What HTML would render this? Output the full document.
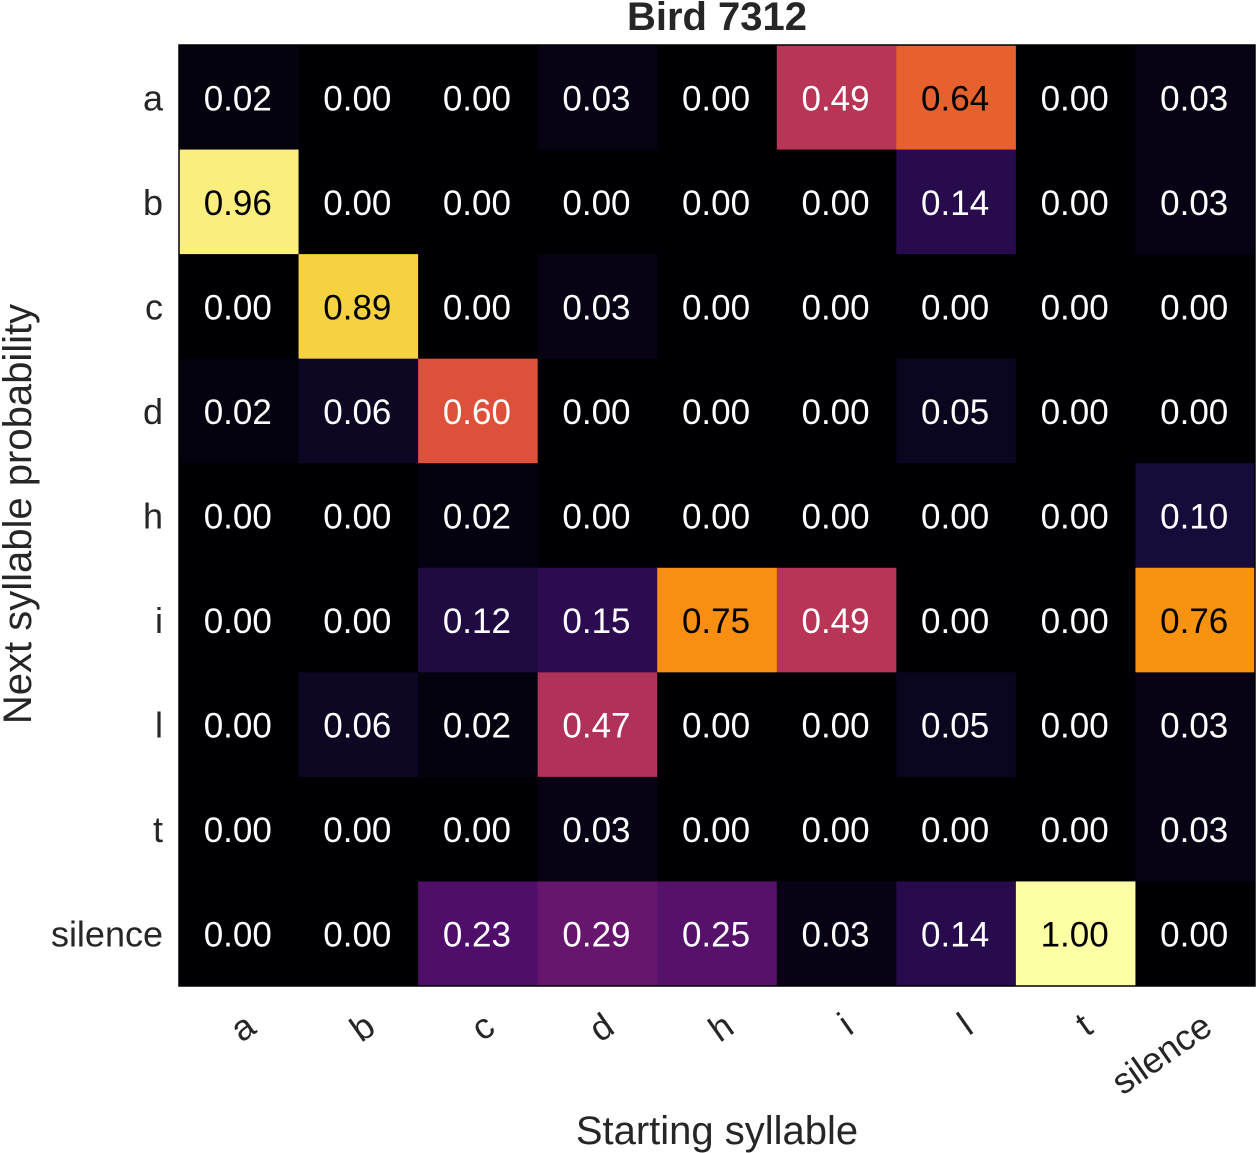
<!DOCTYPE html>
<html><head><meta charset="utf-8"><style>
body{margin:0;background:#fff;}
svg{display:block;font-family:"Liberation Sans",Arial,sans-serif;}
</style></head><body>
<svg id="chart" width="1256" height="1153" viewBox="0 0 1256 1153"></svg>
<script>
const startLabels=["a","b","c","d","h","i","l","t","silence"];
const nextLabels=["a","b","c","d","h","i","l","t","silence"];
const rowA=[0.02,0,0,0.03,0,0.49,0.64,0,0.03];
const rowB=[0.96,0,0,0,0,0,0.14,0,0.03];
const rowC=[0,0.89,0,0.03,0,0,0,0,0];
const rowD=[0.02,0.06,0.60,0,0,0,0.05,0,0];
const rowH=[0,0,0.02,0,0,0,0,0,0.10];
const rowI=[0,0,0.12,0.15,0.75,0.49,0,0,0.76];
const rowL=[0,0.06,0.02,0.47,0,0,0.05,0,0.03];
const rowT=[0,0,0,0.03,0,0,0,0,0.03];
const rowSilence=[0,0,0.23,0.29,0.25,0.03,0.14,1.00,0];
const values=[rowA,rowB,rowC,rowD,rowH,rowI,rowL,rowT,rowSilence];

const NS="http://www.w3.org/2000/svg";
const svg=document.getElementById('chart');
const L=179,T=45,R=1255,B=986;
const cw=(R-L)/startLabels.length, ch=(B-T)/nextLabels.length;
const xPos=i=>L+i*cw, yPos=j=>T+j*ch;
const stops=["#000004","#160b39","#420a68","#6a176e","#932667","#bc3754","#dd513a","#f37819","#fca50a","#f6d746","#fcffa4"];
function hex(h){return [1,3,5].map(k=>parseInt(h.substr(k,2),16));}
function inferno(v){v=Math.max(0,Math.min(1,v));const p=v*10,i=Math.min(9,Math.floor(p)),f=p-i;
 const a=hex(stops[i]),b=hex(stops[i+1]);return "rgb("+a.map((c,k)=>Math.round(c+(b[k]-c)*f)).join(",")+")";}
function el(tag,attrs,parent){const e=document.createElementNS(NS,tag);for(const k in attrs)e.setAttribute(k,attrs[k]);(parent||svg).appendChild(e);return e;}

const title=el('text',{x:717,y:30,'text-anchor':'middle','font-size':40,'font-weight':'bold',fill:'#262626'});
title.textContent="Bird 7312";



values.forEach((row,j)=>row.forEach((v,i)=>{
 const r=el('rect',{x:xPos(i),y:yPos(j),width:cw+0.5,height:ch+0.5,fill:inferno(v)});
 
 
 const t=el('text',{x:xPos(i)+cw/2-1,y:yPos(j)+ch/2+13,'text-anchor':'middle','font-size':35,fill:v>0.62?'#000':'#fff'});
 t.textContent=v.toFixed(2);
 
 
}));
const frame=el('rect',{x:L,y:T,width:R-L,height:B-T,fill:'none',stroke:'#000','stroke-width':1.5});



nextLabels.forEach((s,j)=>{
 const t=el('text',{x:163,y:yPos(j)+ch/2+13,'text-anchor':'end','font-size':36,fill:'#262626'});
 t.textContent=s;
 
 
});
startLabels.forEach((s,i)=>{
 const x=xPos(i)+cw/2+4,y=1010;
 const t=el('text',{x:x,y:y,'text-anchor':'end','font-size':36,fill:'#262626',transform:'rotate(-35 '+x+' '+y+')'});
 t.setAttribute('dominant-baseline','hanging');
 t.textContent=s;
 
 
});
const xt=el('text',{x:717,y:1144,'text-anchor':'middle','font-size':40,fill:'#262626'});
xt.textContent="Starting syllable";


const yt=el('text',{x:0,y:0,'text-anchor':'middle','font-size':40,fill:'#262626',transform:'translate(31 514) rotate(-90)'});
yt.textContent="Next syllable probability";


</script>
</body></html>
